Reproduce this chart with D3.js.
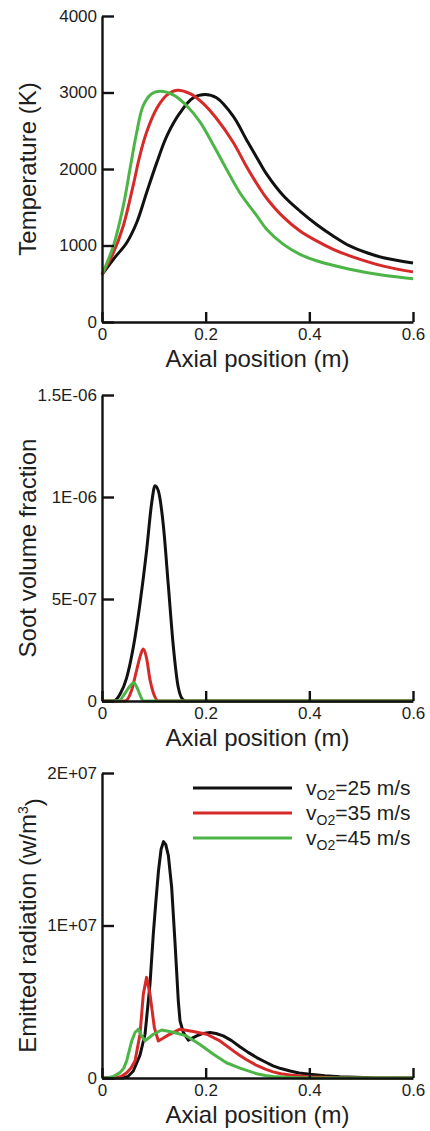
<!DOCTYPE html>
<html>
<head>
<meta charset="utf-8">
<script src="https://cdn.jsdelivr.net/npm/d3@7"></script>
<style>
body { margin: 0; background: #fff; }
svg { display: block; font-family: "Liberation Sans", Arial, Helvetica, sans-serif; }
.axis path, .axis line { stroke: #111; stroke-width: 2.4; }
.axis text { font-size: 17px; fill: #1e1e1e; }
.title { font-size: 24px; fill: #1e1e1e; }
.legend text { font-size: 21px; fill: #1e1e1e; }
</style>
</head>
<body>
<svg id="chart" width="430" height="1131"></svg>
<script>
// shared x axis
var X_TICKS = [0, 0.2, 0.4, 0.6];
var X_TICK_LABELS = ['0', '0.2', '0.4', '0.6'];
var SPEEDS = ['25', '35', '45'];
var COLORS = ['#111111', '#d62a28', '#4db548'];

// temperature (K)
var T_TICKS = [0, 1000, 2000, 3000, 4000];
var T_TICK_LABELS = ['0', '1000', '2000', '3000', '4000'];
var T_X_25 = [0, 0.022, 0.048, 0.067, 0.086, 0.1055, 0.125, 0.15, 0.176, 0.199, 0.221, 0.253, 0.279, 0.305, 0.318, 0.35, 0.382, 0.414, 0.446, 0.478, 0.511, 0.543, 0.6];
var T_Y_25 = [620, 820, 1040, 1300, 1690, 2080, 2430, 2730, 2930, 2975, 2930, 2690, 2380, 2075, 1930, 1650, 1450, 1275, 1125, 995, 905, 840, 770];
var T_X_35 = [0, 0.022, 0.041, 0.06, 0.073, 0.086, 0.1055, 0.125, 0.145, 0.17, 0.1955, 0.221, 0.253, 0.279, 0.305, 0.318, 0.35, 0.382, 0.414, 0.446, 0.478, 0.543, 0.6];
var T_Y_35 = [620, 905, 1255, 1780, 2175, 2480, 2790, 2965, 3030, 2985, 2855, 2660, 2350, 2030, 1740, 1615, 1370, 1190, 1060, 950, 865, 730, 655];
var T_X_45 = [0, 0.022, 0.041, 0.054, 0.067, 0.0795, 0.096, 0.112, 0.1375, 0.163, 0.189, 0.215, 0.24, 0.266, 0.2985, 0.318, 0.35, 0.382, 0.414, 0.478, 0.543, 0.6];
var T_Y_45 = [620, 995, 1515, 2000, 2480, 2830, 2985, 3015, 2970, 2830, 2615, 2310, 2000, 1690, 1390, 1210, 1015, 885, 800, 690, 610, 565];

// soot volume fraction
var S_TICKS = [0, 5e-7, 1e-6, 1.5e-6];
var S_TICK_LABELS = ['0', '5E-07', '1E-06', '1.5E-06'];
var S_X_25 = [0, 0.022, 0.0347, 0.0477, 0.0604, 0.0733, 0.0862, 0.0959, 0.1023, 0.1087, 0.1184, 0.128, 0.1376, 0.147, 0.157, 0.163, 0.6];
var S_Y_25 = [0, 0, 3.3e-8, 1.15e-7, 2.63e-7, 4.78e-7, 7.41e-7, 9.72e-7, 1.055e-6, 1.03e-6, 8.6e-7, 5.65e-7, 2.68e-7, 6.9e-8, 5e-9, 0, 0];
var S_X_35 = [0, 0.0444, 0.0573, 0.067, 0.0746, 0.0797, 0.086, 0.0926, 0.099, 0.109, 0.6];
var S_Y_35 = [0, 0, 5.4e-8, 1.53e-7, 2.27e-7, 2.55e-7, 2.1e-7, 1.04e-7, 4e-8, 0, 0];
var S_X_45 = [0, 0.0315, 0.0444, 0.054, 0.061, 0.067, 0.0733, 0.0797, 0.6];
var S_Y_45 = [0, 0, 3.8e-8, 7.4e-8, 8.9e-8, 6.9e-8, 3e-8, 0, 0];

// emitted radiation (w/m3)
var R_TICKS = [0, 1e7, 2e7];
var R_TICK_LABELS = ['0', '1E+07', '2E+07'];
var R_X_25 = [0, 0.04, 0.05, 0.0604, 0.0733, 0.083, 0.0926, 0.099, 0.104, 0.109, 0.114, 0.1187, 0.123, 0.128, 0.1344, 0.141, 0.1472, 0.1505, 0.157, 0.1666, 0.1827, 0.195, 0.2084, 0.22, 0.234, 0.25, 0.266, 0.282, 0.2985, 0.315, 0.33, 0.345, 0.363, 0.38, 0.401, 0.43, 0.459, 0.52, 0.6];
var R_Y_25 = [0, 0, 1e5, 4.6e5, 1.5e6, 2.87e6, 6.16e6, 9.45e6, 1.16e7, 1.36e7, 1.5e7, 1.55e7, 1.53e7, 1.46e7, 1.25e7, 8.8e6, 5.06e6, 3.75e6, 2.98e6, 2.48e6, 2.76e6, 2.92e6, 2.98e6, 2.92e6, 2.76e6, 2.45e6, 2.05e6, 1.68e6, 1.34e6, 1.05e6, 8e5, 6.2e5, 4.6e5, 3.3e5, 2.4e5, 1.4e5, 8e4, 1e4, 0];
var R_X_35 = [0, 0.025, 0.037, 0.0476, 0.056, 0.0637, 0.0733, 0.0797, 0.086, 0.0926, 0.101, 0.1087, 0.1248, 0.1505, 0.176, 0.202, 0.2276, 0.2534, 0.266, 0.279, 0.2985, 0.315, 0.33, 0.345, 0.363, 0.4, 0.45, 0.6];
var R_Y_35 = [0, 0, 1e5, 3.5e5, 6.5e5, 1.12e6, 2.87e6, 5.5e6, 6.6e6, 5.5e6, 3.3e6, 2.43e6, 2.76e6, 3.2e6, 3.05e6, 2.87e6, 2.43e6, 1.78e6, 1.48e6, 1.2e6, 8.2e5, 5.8e5, 4e5, 2.8e5, 2e5, 8e4, 2e4, 0];
var R_X_45 = [0, 0.009, 0.022, 0.0347, 0.042, 0.0476, 0.0573, 0.0637, 0.07, 0.0765, 0.083, 0.099, 0.1152, 0.1376, 0.163, 0.189, 0.215, 0.24, 0.266, 0.2985, 0.315, 0.33, 0.363, 0.4, 0.6];
var R_Y_45 = [0, 0, 1e5, 3.5e5, 6.5e5, 1.12e6, 2.43e6, 2.98e6, 3.2e6, 2.76e6, 2.43e6, 2.87e6, 3.15e6, 3.0e6, 2.76e6, 2.2e6, 1.56e6, 1.0e6, 6.5e5, 2.8e5, 1.7e5, 1e5, 4e4, 0, 0];

function pairs(xs, ys) {
    return xs.map(function(x, i) { return [x, ys[i]]; });
}

var svg = d3.select('#chart');
var left = 102, right = 413;

var x = d3.scaleLinear().domain([0, 0.6]).range([left, right]);

var panels = [
    { top: 16, bottom: 322, max: 4000, ticks: T_TICKS, labels: T_TICK_LABELS,
      title: ['Temperature (K)'], curve: d3.curveCatmullRom.alpha(0.5),
      lines: [pairs(T_X_25, T_Y_25), pairs(T_X_35, T_Y_35), pairs(T_X_45, T_Y_45)] },
    { top: 395, bottom: 701, max: 1.5e-6, ticks: S_TICKS, labels: S_TICK_LABELS,
      title: ['Soot volume fraction'], curve: d3.curveMonotoneX,
      lines: [pairs(S_X_25, S_Y_25), pairs(S_X_35, S_Y_35), pairs(S_X_45, S_Y_45)] },
    { top: 773, bottom: 1078, max: 2e7, ticks: R_TICKS, labels: R_TICK_LABELS,
      title: ['Emitted radiation (w/m', '3', ')'], legend: true, curve: d3.curveLinear,
      lines: [pairs(R_X_25, R_Y_25), pairs(R_X_35, R_Y_35), pairs(R_X_45, R_Y_45)] }
];

panels.forEach(function(p) {
    var y = d3.scaleLinear().domain([0, p.max]).range([p.bottom, p.top]);
    var g = svg.append('g');

    var line = d3.line()
        .x(function(d) { return x(d[0]); })
        .y(function(d) { return y(d[1]); })
        .curve(p.curve);

    p.lines.forEach(function(pts, i) {
        g.append('path')
            .datum(pts)
            .attr('d', line)
            .attr('fill', 'none')
            .attr('stroke', COLORS[i])
            .attr('stroke-width', 3)
            .attr('stroke-linejoin', 'round');
    });

    g.append('g')
        .attr('class', 'axis')
        .attr('transform', 'translate(0,' + p.bottom + ')')
        .call(d3.axisBottom(x)
            .tickValues(X_TICKS)
            .tickFormat(function(d, i) { return X_TICK_LABELS[i]; })
            .tickSize(-10).tickSizeOuter(0).tickPadding(6));

    g.append('g')
        .attr('class', 'axis')
        .attr('transform', 'translate(' + left + ',0)')
        .call(d3.axisLeft(y)
            .tickValues(p.ticks)
            .tickFormat(function(d, i) { return p.labels[i]; })
            .tickSize(-12).tickSizeOuter(0).tickPadding(5));

    g.append('text')
        .attr('class', 'title')
        .attr('x', (left + right) / 2)
        .attr('y', p.bottom + 45)
        .attr('text-anchor', 'middle')
        .text('Axial position (m)');

    var yt = g.append('text')
        .attr('class', 'title')
        .attr('text-anchor', 'middle')
        .attr('transform', 'translate(36,' + (p.top + p.bottom) / 2 + ') rotate(-90)');
    yt.append('tspan').text(p.title[0]);
    if (p.title.length > 1) {
        yt.append('tspan').attr('dy', '-0.55em').style('font-size', '14px').text(p.title[1]);
        yt.append('tspan').attr('dy', '0.55em').text(p.title[2]);
    }

    if (p.legend) {
        var lg = g.append('g').attr('class', 'legend');
        SPEEDS.forEach(function(s, i) {
            var ly = 788 + i * 25;
            lg.append('line')
                .attr('x1', 193).attr('x2', 292)
                .attr('y1', ly).attr('y2', ly)
                .attr('stroke', COLORS[i])
                .attr('stroke-width', 3);
            var t = lg.append('text').attr('x', 306).attr('y', ly + 7);
            t.append('tspan').text('v');
            t.append('tspan').attr('dy', 5).style('font-size', '14px').text('O2');
            t.append('tspan').attr('dy', -5).text('=' + s + ' m/s');
        });
    }
});
</script>
</body>
</html>
